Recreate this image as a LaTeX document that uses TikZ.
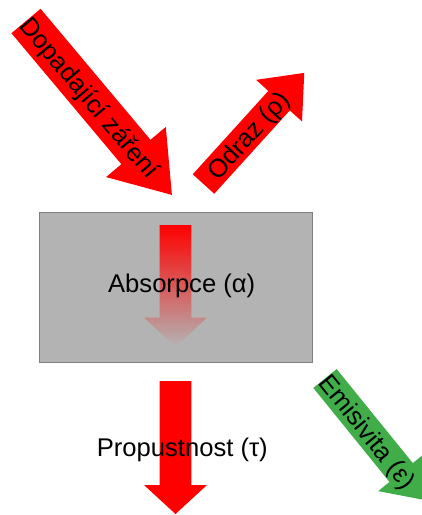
\documentclass[tikz,border=0pt]{standalone}
\usepackage{fontspec}
\setmainfont{Liberation Sans}
\definecolor{boxgray}{RGB}{179,179,179}
\definecolor{boxedge}{RGB}{128,128,128}
\definecolor{emgreen}{RGB}{64,173,72}
% block arrow along the local x axis: #1 fill options, #2 length, #3 shaft width,
% #4 head width, #5 head length
\newcommand\blockarrow[5]{%
  \fill[#1] (0,-#3/2) -- ({#2-#5},-#3/2) -- ({#2-#5},-#4/2) -- (#2,0)
    -- ({#2-#5},#4/2) -- ({#2-#5},#3/2) -- (0,#3/2) -- cycle;}
\tikzset{
  lbl/.style={font=\fontsize{25.6}{30}\selectfont, inner sep=0pt, text=black},
  rotlbl/.style={lbl, text height=18.3pt, text depth=0pt}
}
\begin{document}
\begin{tikzpicture}[x=1pt, y=-1pt]
\useasboundingbox (0,0) rectangle (422,515);

% incoming radiation
\begin{scope}[shift={(26,21)}, rotate=-50, transform shape]
  \blockarrow{red}{227}{38}{78}{56}
  \node[rotlbl] (incident) at (100,0) {Dopadající záření};
\end{scope}

% reflected part
\begin{scope}[shift={(203.5,184)}, rotate=47.8, transform shape]
  \blockarrow{red}{150}{29}{62}{37.5}
  \node[rotlbl] (reflect) at (66,0) {Odraz (ρ)};
\end{scope}

% the material slab
\node[draw=boxedge, fill=boxgray, line width=0.8pt, anchor=north west,
      minimum width=273pt, minimum height=150pt, inner sep=0pt] (slab) at (39,212) {};

% absorbed part, fading inside the slab
\shade[top color=red, bottom color=boxgray]
  (159.7,225) -- (191.3,225) -- (191.3,317.7) -- (206.9,317.7) -- (175.5,346.7)
  -- (144.1,317.7) -- (159.7,317.7) -- cycle;
\node[lbl, anchor=base] (absorb) at (181.7,292.7) {Absorpce (α)};

% transmitted part
\fill[red] (159.7,381) -- (191.3,381) -- (191.3,485) -- (207,485) -- (175.5,514)
  -- (144,485) -- (159.7,485) -- cycle;
\node[lbl, anchor=base] (transmit) at (182.3,456) {Propustnost (τ)};

% emitted radiation
\begin{scope}[shift={(325,378.5)}, rotate=-51, transform shape]
  \blockarrow{emgreen}{156}{30}{59}{35}
  \node[rotlbl] (emit) at (68,0) {Emisivita (ε)};
\end{scope}
\end{tikzpicture}
\end{document}
